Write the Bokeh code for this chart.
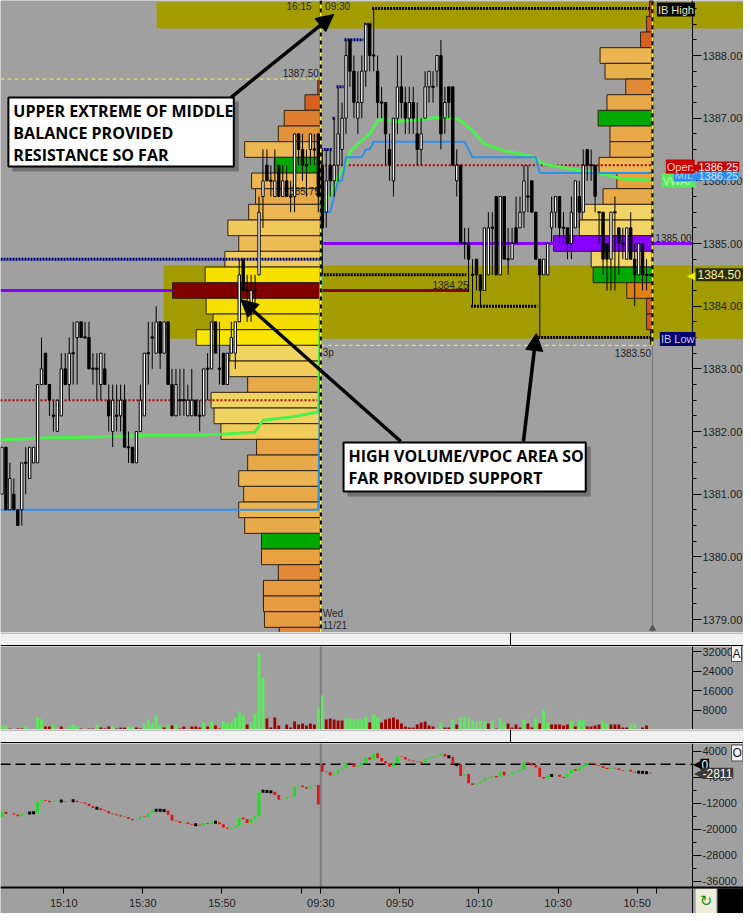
import math
from bokeh.plotting import figure
from bokeh.models import (FixedTicker, SingleIntervalTicker, NumeralTickFormatter, LinearAxis,
                          Label, Arrow, NormalHead, Range1d)
from bokeh.layouts import column
from bokeh.embed import file_html
from bokeh.resources import INLINE
from bokeh.core.properties import value

# ---------------------------------------------------------------- data
prev_session_start = "14:54"
cur_session_start = "09:30"
n_prev_bars = 81

bar_open = [
    1381.0, 1381.75, 1380.75, 1381.0, 1380.75, 1380.75, 1381.5, 1381.25, 1381.5, 1381.5,
    1382.75, 1383.25, 1382.75, 1382.25, 1382.0, 1382.25, 1383.0, 1382.75, 1383.25, 1383.5,
    1383.75, 1383.5, 1383.5, 1383.0, 1383.0, 1382.75, 1383.0, 1382.5, 1382.0, 1382.25,
    1382.25, 1382.5, 1381.75, 1381.75, 1381.5, 1382.0, 1382.25, 1383.25, 1383.5, 1383.25,
    1383.75, 1383.25, 1383.75, 1382.75, 1382.25, 1382.5, 1382.5, 1382.25, 1382.25, 1382.5,
    1382.25, 1382.25, 1383.0, 1383.0, 1383.75, 1383.0, 1383.25, 1382.75, 1383.25, 1383.25,
    1383.75, 1384.75, 1384.25, 1384.0, 1384.25, 1384.5, 1385.75, 1386.25, 1386.0, 1385.75,
    1386.25, 1385.75, 1386.0, 1385.75, 1385.75, 1386.75, 1386.5, 1386.25, 1386.5, 1386.5,
    1386.75,
    1386.25, 1385.5, 1386.25, 1386.0, 1386.25, 1386.5, 1387.0, 1388.25, 1387.75, 1387.0,
    1387.25, 1387.75, 1388.5, 1388.0, 1387.75, 1387.25, 1387.25, 1386.5, 1386.0, 1387.0,
    1387.5, 1387.25, 1387.0, 1387.25, 1386.75, 1386.5, 1387.0, 1387.5, 1387.5, 1387.75,
    1388.0, 1387.0, 1387.5, 1387.5, 1386.0, 1386.25, 1385.0, 1385.0, 1384.5, 1384.75,
    1384.5, 1384.25, 1384.5, 1385.25, 1385.75, 1384.5, 1385.75, 1384.75, 1384.75, 1385.25,
    1385.25, 1385.5, 1385.75, 1386.0, 1385.5, 1384.75, 1384.5, 1384.5, 1385.25, 1385.5,
    1385.75, 1385.25, 1385.25, 1385.0, 1385.25, 1385.75, 1385.5, 1386.5, 1386.25, 1386.25,
    1385.5, 1385.5, 1385.0, 1384.75, 1385.5, 1385.25, 1385.0, 1384.75, 1385.25, 1384.75,
    1384.5, 1385.0, 1384.5, 1384.5]
bar_high = [
    1381.75, 1381.75, 1381.5, 1381.25, 1380.75, 1381.5, 1381.75, 1381.75, 1381.75, 1382.75,
    1383.5, 1383.25, 1382.75, 1382.5, 1382.5, 1383.25, 1383.25, 1383.5, 1383.75, 1383.75,
    1383.75, 1383.75, 1383.75, 1383.25, 1383.25, 1383.25, 1383.25, 1382.75, 1382.75, 1382.75,
    1382.75, 1382.75, 1382.0, 1381.75, 1382.0, 1382.75, 1383.25, 1383.75, 1383.75, 1384.0,
    1383.75, 1383.75, 1383.75, 1383.0, 1383.0, 1383.0, 1383.0, 1382.75, 1383.0, 1382.5,
    1382.5, 1383.0, 1383.25, 1383.75, 1383.75, 1383.75, 1383.25, 1383.25, 1383.75, 1383.75,
    1384.75, 1384.75, 1384.5, 1384.5, 1384.5, 1385.75, 1386.5, 1386.5, 1386.25, 1386.5,
    1386.25, 1386.25, 1386.25, 1386.0, 1386.75, 1386.75, 1386.75, 1386.5, 1386.75, 1386.75,
    1386.75,
    1386.5, 1386.5, 1386.5, 1387.0, 1387.5, 1387.25, 1388.25, 1388.25, 1388.0, 1387.75,
    1388.0, 1388.5, 1388.5, 1388.75, 1388.0, 1387.5, 1387.25, 1386.75, 1387.0, 1388.0,
    1388.0, 1387.5, 1387.5, 1387.5, 1387.25, 1387.0, 1387.75, 1387.75, 1387.75, 1388.0,
    1388.25, 1387.5, 1387.5, 1387.5, 1386.5, 1386.25, 1385.25, 1385.25, 1384.75, 1384.75,
    1384.5, 1385.25, 1385.5, 1385.5, 1385.75, 1385.75, 1385.75, 1385.25, 1385.25, 1385.75,
    1385.75, 1386.25, 1386.25, 1386.0, 1385.5, 1384.75, 1384.75, 1385.0, 1385.75, 1385.75,
    1385.75, 1385.5, 1385.25, 1385.75, 1386.0, 1386.0, 1386.5, 1386.5, 1386.5, 1386.25,
    1385.5, 1385.5, 1385.0, 1385.5, 1385.75, 1385.25, 1385.25, 1385.25, 1385.5, 1385.0,
    1385.0, 1385.0, 1384.75, 1384.5]
bar_low = [
    1381.0, 1380.75, 1380.75, 1380.75, 1380.5, 1380.5, 1381.0, 1381.25, 1381.5, 1381.5,
    1382.75, 1382.75, 1382.25, 1382.0, 1382.0, 1382.25, 1382.75, 1382.5, 1382.75, 1382.75,
    1383.5, 1383.5, 1383.0, 1382.75, 1382.5, 1382.5, 1382.75, 1382.0, 1381.75, 1382.0,
    1382.0, 1381.75, 1381.5, 1381.5, 1381.5, 1382.0, 1382.25, 1382.75, 1383.0, 1383.25,
    1383.0, 1383.25, 1382.75, 1382.25, 1382.25, 1382.25, 1382.25, 1382.25, 1382.25, 1382.25,
    1382.0, 1382.25, 1382.5, 1383.0, 1383.25, 1382.75, 1382.75, 1382.75, 1383.25, 1383.0,
    1383.75, 1384.25, 1383.75, 1383.75, 1384.0, 1384.5, 1385.25, 1386.0, 1385.75, 1385.75,
    1385.75, 1385.75, 1385.75, 1385.5, 1385.5, 1386.25, 1386.0, 1385.75, 1386.25, 1386.25,
    1385.5,
    1384.5, 1385.25, 1385.75, 1385.75, 1386.0, 1386.25, 1386.75, 1387.5, 1387.0, 1386.75,
    1387.0, 1387.5, 1387.75, 1387.75, 1387.0, 1387.0, 1386.25, 1386.0, 1385.75, 1386.75,
    1387.0, 1386.75, 1386.75, 1386.75, 1386.25, 1386.25, 1387.0, 1387.25, 1387.25, 1387.5,
    1386.5, 1386.75, 1387.0, 1386.25, 1385.75, 1385.0, 1384.75, 1384.25, 1384.0, 1384.25,
    1384.0, 1384.25, 1384.5, 1384.5, 1384.5, 1384.5, 1384.75, 1384.5, 1384.75, 1385.0,
    1385.25, 1385.25, 1385.5, 1385.5, 1384.75, 1383.5, 1384.5, 1384.5, 1385.0, 1385.25,
    1385.0, 1385.0, 1384.75, 1384.75, 1385.25, 1385.25, 1385.5, 1386.0, 1386.0, 1385.5,
    1385.0, 1384.5, 1384.25, 1384.25, 1384.25, 1384.5, 1384.75, 1384.75, 1384.75, 1384.0,
    1384.5, 1384.25, 1384.25, 1384.5]
bar_close = [
    1381.75, 1380.75, 1381.25, 1380.75, 1380.5, 1381.5, 1381.5, 1381.75, 1381.75, 1382.75,
    1383.0, 1382.75, 1382.5, 1382.25, 1382.5, 1383.0, 1382.75, 1383.25, 1383.25, 1383.75,
    1383.5, 1383.5, 1383.0, 1383.0, 1383.0, 1383.25, 1382.75, 1382.25, 1382.5, 1382.25,
    1382.5, 1381.75, 1381.75, 1381.5, 1382.0, 1382.5, 1383.25, 1383.25, 1383.5, 1383.75,
    1383.25, 1383.75, 1382.75, 1382.25, 1382.75, 1382.5, 1382.5, 1382.5, 1382.5, 1382.25,
    1382.25, 1383.0, 1383.0, 1383.75, 1383.25, 1383.0, 1382.75, 1383.25, 1383.5, 1383.75,
    1384.5, 1384.25, 1384.25, 1384.25, 1384.25, 1385.5, 1386.0, 1386.0, 1386.0, 1386.0,
    1385.75, 1386.0, 1385.75, 1385.75, 1386.75, 1386.5, 1386.25, 1386.25, 1386.75, 1386.5,
    1385.75,
    1385.25, 1386.0, 1386.0, 1386.25, 1386.75, 1387.0, 1388.0, 1387.75, 1387.25, 1387.25,
    1387.75, 1388.5, 1388.0, 1388.0, 1387.25, 1387.25, 1386.75, 1386.25, 1387.0, 1387.5,
    1387.25, 1387.0, 1387.25, 1387.0, 1386.5, 1386.75, 1387.5, 1387.75, 1387.5, 1388.0,
    1386.75, 1387.25, 1387.25, 1386.25, 1386.25, 1385.0, 1385.0, 1384.75, 1384.5, 1384.5,
    1384.25, 1385.25, 1385.25, 1385.25, 1384.5, 1385.75, 1384.75, 1384.75, 1385.0, 1385.0,
    1385.5, 1386.0, 1385.75, 1385.5, 1384.75, 1384.5, 1384.75, 1385.0, 1385.5, 1385.75,
    1385.25, 1385.25, 1385.0, 1385.5, 1386.0, 1385.5, 1386.25, 1386.25, 1386.25, 1385.75,
    1385.5, 1384.75, 1384.75, 1385.5, 1385.5, 1385.0, 1385.0, 1385.25, 1384.75, 1384.5,
    1385.0, 1384.5, 1384.5, 1384.5]

bar_volume = [
    1650, 1650, 400, 0, 400, 400, 1240, 0, 0, 4950,
    4260, 1240, 1240, 2060, 0, 1240, 0, 1240, 2060, 1240,
    400, 0, 400, 400, 2060, 825, 400, 1240, 1650, 400,
    825, 825, 1240, 1240, 825, 400, 2475, 4125, 2890, 5775,
    2060, 825, 2060, 1650, 2060, 400, 1240, 0, 1240, 1240,
    825, 2890, 1240, 3300, 1650, 400, 3300, 2475, 2890, 4950,
    7425, 5775, 2060, 2890, 6600, 31350, 21450, 4540, 825, 4950,
    1650, 0, 2060, 825, 3300, 2060, 2475, 1650, 2475, 2060,
    8660, 14025, 4125, 4540, 4125, 3710, 3710, 4950, 4540, 4125,
    4125, 4125, 5360, 2890, 6190, 4950, 2890, 4125, 4540, 4950,
    4125, 2475, 1240, 825, 825, 2060, 2890, 3300, 1650, 1240,
    0, 2890, 825, 825, 4125, 2060, 4950, 5360, 4950, 3710,
    3300, 3710, 3710, 2475, 3710, 400, 4540, 2890, 2475, 825,
    2060, 825, 4125, 2475, 825, 4540, 2475, 7840, 2890, 2060,
    2060, 2060, 1650, 2060, 3710, 1240, 3710, 4125, 1240, 1240,
    1650, 2060, 3710, 2475, 2060, 2060, 2060, 825, 825, 2060,
    2475, 0, 825, 1650, 0]
bar_volume_up = [
    1, 1, 0, 0, 0, 0, 1, 0, 0, 1,
    1, 0, 0, 1, 0, 0, 0, 1, 1, 1,
    0, 0, 0, 0, 1, 0, 0, 0, 1, 0,
    0, 0, 1, 1, 0, 0, 1, 1, 1, 1,
    1, 0, 1, 0, 1, 0, 0, 0, 0, 0,
    0, 1, 0, 1, 0, 0, 1, 1, 1, 1,
    1, 1, 0, 1, 1, 1, 1, 0, 0, 0,
    0, 0, 0, 0, 0, 0, 0, 0, 0, 0,
    1, 1, 0, 0, 0, 0, 0, 1, 1, 1,
    1, 1, 1, 0, 1, 1, 0, 0, 0, 0,
    0, 0, 0, 0, 0, 0, 0, 0, 0, 0,
    0, 1, 0, 0, 1, 0, 1, 1, 1, 1,
    1, 1, 1, 0, 1, 0, 1, 1, 0, 0,
    0, 0, 1, 0, 0, 1, 0, 1, 1, 0,
    0, 0, 0, 0, 1, 0, 1, 1, 0, 0,
    0, 0, 1, 1, 0, 0, 0, 0, 0, 1,
    1, 0, 0, 0, 0]

delta_session_open = [-16280, 0]
delta_close = [
    -14630, -15310, -15110, -15500, -15990, -15210, -15020, -15020, -14920, -11510,
    -11030, -11220, -11710, -11420, -11220, -11320, -11510, -11320, -11220, -11610,
    -11810, -12200, -12880, -13460, -13560, -14140, -14430, -15210, -15410, -15700,
    -16090, -16280, -16770, -17260, -16960, -16090, -16280, -15110, -14140, -14140,
    -14140, -14240, -15600, -17350, -17550, -18130, -17940, -18420, -18620, -18620,
    -18910, -18130, -18330, -17840, -17840, -18520, -19490, -19880, -19590, -19110,
    -16380, -16960, -18130, -16870, -15990, -8400, -8300, -8400, -8500, -9470,
    -10930, -10730, -10150, -9960, -6940, -6550, -7040, -7520, -6750, -6360,
    -12390,
    -2280, -2450, -3450, -2950, -1690, -1280, 470, 260, -820, -320,
    470, 2100, 1430, 3390, 1930, 930, 260, -700, 470, 2390,
    2220, 1430, 1140, 930, 760, 470, 1640, 1930, 2390, 2600,
    3180, 2390, 2310, -30, -120, -3620, -2950, -5870, -6370, -5870,
    -5200, -4410, -4200, -3620, -4030, -2280, -3450, -3240, -2450, -2280,
    -1780, 640, 180, -320, -990, -3910, -4410, -3450, -3450, -3240,
    -3910, -4200, -2950, -1490, -1990, -990, -320, 470, 180, -320,
    -530, -1110, -1490, -1110, -1280, -1780, -1990, -1690, -2280, -2570,
    -2450, -2500, -2600, -2811]

prev_profile_price = [1387.50, 1387.25, 1387.00, 1386.75, 1386.50, 1386.25, 1386.00, 1385.75,
                      1385.50, 1385.25, 1385.00, 1384.75, 1384.50, 1384.25, 1384.00, 1383.75,
                      1383.50, 1383.25, 1383.00, 1382.75, 1382.50, 1382.25, 1382.00, 1381.75,
                      1381.50, 1381.25, 1381.00, 1380.75, 1380.50, 1380.25, 1380.00, 1379.75,
                      1379.50, 1379.25, 1379.00, 1378.75]
prev_profile_vol = [150, 800, 1850, 2150, 3850, 2350, 3500, 3300, 3650, 4700, 4150, 4850, 5850,
                    7500, 5800, 5450, 6300, 4600, 4650, 3700, 5550, 5400, 5050, 3250, 3700, 4150,
                    3900, 4150, 3850, 3000, 3000, 2150, 2900, 2900, 2850, 2100]
cur_profile_price = [1388.75, 1388.50, 1388.25, 1388.00, 1387.75, 1387.50, 1387.25, 1387.00,
                     1386.75, 1386.50, 1386.25, 1386.00, 1385.75, 1385.50, 1385.25, 1385.00,
                     1384.75, 1384.50, 1384.25, 1384.00, 1383.75, 1383.50]
cur_profile_vol = [150, 300, 600, 2650, 2400, 1350, 2300, 2750, 2150, 2150, 2700, 1800, 2500,
                   3550, 3700, 5000, 3100, 3000, 1300, 300, 300, 100]

vwap_bar = [0, 12, 21, 37, 50, 56, 64, 66, 73, 80, 81, 82, 84, 85, 87, 88, 90, 93, 95, 97,
            99, 102, 105, 110, 113, 115, 116, 119, 122, 127, 134, 137, 144, 152, 157, 164]
vwap_price = [1381.87, 1381.90, 1381.91, 1381.94, 1381.94, 1381.96, 1381.99, 1382.18, 1382.23,
              1382.31, 1385.47, 1385.69, 1385.90, 1386.06, 1386.27, 1386.46, 1386.59, 1386.75,
              1386.96, 1386.99, 1386.94, 1386.96, 1386.97, 1387.01, 1387.01, 1386.99, 1386.96,
              1386.80, 1386.59, 1386.48, 1386.39, 1386.27, 1386.19, 1386.11, 1386.03, 1386.01]

prev_open_level = 1382.50
prior_ref_level = 1384.75
prev_mid_level = 1380.75

zone_start_bar = [39.1, 40.9]
zone_low = [1388.43, 1383.48]
zone_high = [1388.85, 1384.65]

time_tick_labels = ["15:10", "15:30", "15:50", "16:10", "09:30", "09:50", "10:10", "10:30",
                    "10:50", "10:55"]
time_tick_hidden = ["16:10", "10:55"]

callout_1 = ["UPPER EXTREME OF MIDDLE", "BALANCE PROVIDED", "RESISTANCE SO FAR"]
callout_2 = ["HIGH VOLUME/VPOC AREA SO", "FAR PROVIDED SUPPORT"]

# ---------------------------------------------------------------- styles
BG = "#a1a0a1"
OLIVE = "#a29c00"
FONT = "Liberation Sans"
prev_profile_colors = ["#c8461a", "#d65f22", "#df7e30", "#e29238", "#ecb652", "#00a800",
                       "#ecb652", "#e8aa48", "#ecb652", "#f0c85a", "#ecbc52", "#f0cc5a",
                       "#f7e000", "#800000", "#f7e000", "#f5dc00", "#f7e400", "#f0d462",
                       "#f0cc5a", "#e8aa48", "#f0d462", "#f0d462", "#f0cc5a", "#e8a444",
                       "#e8aa48", "#ecb450", "#e8aa48", "#ecb450", "#e8aa48", "#00a800",
                       "#e8a040", "#e08838", "#e89c42", "#e89c42", "#e89c42", "#e08838"]
cur_profile_colors = ["#c8461a", "#d4561e", "#d65f22", "#ecb652", "#e8b04a", "#e08a38",
                      "#e8aa48", "#00a800", "#e8aa48", "#e8aa48", "#ecb652", "#e8a040",
                      "#e8aa48", "#f2d466", "#f2d466", "#8800ff", "#f2d466", "#00a800",
                      "#e08010", "#d4561e", "#d4561e", "#c8461a"]
UNITS_PER_CONTRACT = 1.0 / 200.0

W = 743
FRAME_W = 692          # data area left of the price axis
PRICE_H = 632
VOL_H = 83
STRIP_H = 14
D_H = 144
XAX_H = 26

N = len(bar_close)
idx = list(range(N))
X0 = -0.375
SCALE = 175.0 / FRAME_W                  # bar units per pixel
XA = X0 + FRAME_W * SCALE                # axis line position
XE = X0 + W * SCALE                      # right edge of canvas
PREV_R = n_prev_bars - 0.375
CUR_R = (N - 1) + 0.5
PY0, PY1 = 1378.793, 1388.878
VOL_TOP = 34200.0
D_TOP, D_BOT = 6394.0, -37985.0
D_PER_PX = (D_TOP - D_BOT) / D_H
D_BOT2 = D_BOT - XAX_H * D_PER_PX


def fx(px):
    my = px * FRAME_W / 700.0 if px <= 700 else FRAME_W + (px - 700)
    return X0 + my * SCALE


def fy(py):
    return 1388.0 - (py - 55.0) / 62.67


def vy(py):
    return VOL_TOP * (1 - (py - 646.0) / VOL_H)


def dy(py):
    my = (py - 743.0) * D_H / 152.0 if py <= 895 else D_H + (py - 895.0)
    return D_TOP - my * D_PER_PX


def right_axis(fig, ticker, formatter, size="11px"):
    ax = LinearAxis(ticker=ticker, formatter=formatter, fixed_location=XA)
    ax.axis_line_color = "black"
    ax.axis_line_width = 1
    ax.major_tick_line_color = "black"
    ax.minor_tick_line_color = "black"
    ax.major_tick_in = 0
    ax.major_tick_out = 9
    ax.minor_tick_in = 0
    ax.minor_tick_out = 4
    ax.major_label_standoff = 1
    ax.major_label_text_font = FONT
    ax.major_label_text_font_size = size
    ax.major_label_text_color = "#1e1e1e"
    fig.add_layout(ax, "right")
    return ax


def base_fig(height, y_range):
    f = figure(width=W, height=height, x_range=shared_x, y_range=y_range,
               output_backend="svg", toolbar_location=None, x_axis_location=None,
               y_axis_location=None, background_fill_color=BG, border_fill_color=BG,
               outline_line_color=None, min_border=0)
    f.grid.visible = False
    return f


def tag(fig, x, y, text, bg, fg, size="11px", align="left", pad=1, border=None):
    lab = Label(x=x, y=y, text=text, text_font=FONT, text_font_size=size, text_color=fg,
                text_align=align, text_baseline="middle", background_fill_color=bg,
                padding=pad)
    if border:
        lab.border_line_color = border
    fig.add_layout(lab)


def runs(vals, start):
    segs, s = [], 0
    for k in range(1, len(vals) + 1):
        if k == len(vals) or vals[k] != vals[s]:
            segs.append((start + s, start + k - 1, vals[s]))
            s = k
    return segs


shared_x = Range1d(X0, XE)

# ---------------------------------------------------------------- price panel
p = base_fig(PRICE_H, Range1d(PY0, PY1))
right_axis(p, SingleIntervalTicker(interval=1, num_minor_ticks=4),
           NumeralTickFormatter(format="0.00"))

# zones
p.quad(left=zone_start_bar, right=[XE + 5] * len(zone_low), bottom=zone_low, top=zone_high,
       fill_color=OLIVE, line_color=None)

# volume profiles
p.quad(left=[PREV_R - v * UNITS_PER_CONTRACT for v in prev_profile_vol], right=PREV_R,
       bottom=[q - 0.125 for q in prev_profile_price], top=[q + 0.125 for q in prev_profile_price],
       fill_color=prev_profile_colors, line_color="#2e2210", line_width=1)
p.quad(left=[CUR_R - v * UNITS_PER_CONTRACT for v in cur_profile_vol], right=CUR_R,
       bottom=[q - 0.125 for q in cur_profile_price], top=[q + 0.125 for q in cur_profile_price],
       fill_color=cur_profile_colors, line_color="#2e2210", line_width=1)

prev_k = prev_profile_vol.index(max(prev_profile_vol))
prev_vpoc = prev_profile_price[prev_k]
cur_vpoc = cur_profile_price[cur_profile_vol.index(max(cur_profile_vol))]

cur_idx = list(range(n_prev_bars, N))
run_hi, run_lo = [], []
mh, ml = -1e9, 1e9
for i in cur_idx:
    mh = max(mh, bar_high[i])
    ml = min(ml, bar_low[i])
    run_hi.append(mh)
    run_lo.append(ml)
touch = next(i for i in cur_idx if bar_low[i] <= prev_vpoc <= bar_high[i])
cur_open = bar_open[n_prev_bars]

# level lines
p.line([X0, PREV_R], [max(prev_profile_price) + 0.125] * 2, line_color="#f4f060",
       line_width=1, line_dash="4 3")
p.line([PREV_R, CUR_R], [ml - 0.125] * 2, line_color="#f4f060", line_width=1, line_dash="4 3")
p.line([X0, PREV_R], [prior_ref_level] * 2, line_color="#00007a", line_width=3, line_dash="2 1")
p.line([X0, PREV_R], [prev_open_level] * 2, line_color="#b00000", line_width=2, line_dash="2 2")
p.line([PREV_R, CUR_R], [cur_open] * 2, line_color="#b00000", line_width=2, line_dash="2 2")
p.line([X0, PREV_R - prev_profile_vol[prev_k] * UNITS_PER_CONTRACT], [prev_vpoc] * 2,
       line_color="#8800ff", line_width=3)
p.line([PREV_R, touch], [prev_vpoc] * 2, line_color="#880000", line_width=3)
p.line([PREV_R, XA], [cur_vpoc] * 2, line_color="#8800ff", line_width=3)

hi_segs = runs(run_hi, n_prev_bars)
for k, (a, b, v) in enumerate(hi_segs):
    last = k == len(hi_segs) - 1
    p.line([a - 0.4, CUR_R if last else b + 0.4], [v, v],
           line_color="black" if v >= mh - 0.25 else "#000080", line_width=3, line_dash="2 1")
lo_segs = runs(run_lo, n_prev_bars)
for k, (a, b, v) in enumerate(lo_segs):
    last = k == len(lo_segs) - 1
    p.line([a - 0.4, CUR_R if last else b + 0.4], [v, v], line_color="black",
           line_width=3, line_dash="2 1")

# VWAP and range midpoint
p.line(vwap_bar, vwap_price, line_color="#4cf04c", line_width=3)
mids = [(h + l) / 2 for h, l in zip(run_hi, run_lo)]
p.line([X0, n_prev_bars - 1] + cur_idx, [prev_mid_level] * 2 + mids,
       line_color="#2f8fea", line_width=2)

# vertical session lines
p.segment(x0=[PREV_R], y0=[PY0], x1=[PREV_R], y1=[PY1], line_color="black", line_width=2)
p.segment(x0=[PREV_R], y0=[PY0], x1=[PREV_R], y1=[PY1], line_color="#f8f040", line_width=2,
          line_dash="4 4")
p.segment(x0=[CUR_R], y0=[ml - 0.125], x1=[CUR_R], y1=[PY1], line_color="black", line_width=2)
p.segment(x0=[CUR_R], y0=[ml - 0.125], x1=[CUR_R], y1=[PY1], line_color="#f8f040",
          line_width=2, line_dash="4 4")
p.segment(x0=[CUR_R], y0=[PY0], x1=[CUR_R], y1=[ml - 0.125], line_color="#7a7a7a", line_width=1)
p.scatter([CUR_R], [fy(628)], marker="triangle", size=6, color="#555555")

# small texts
tf = value(FONT)
p.text(x=[fx(322), fx(323), touch, fx(699), fx(658)],
       y=[fy(72), fy(190), fy(284), fy(237), fy(352)],
       text=[f"{max(prev_profile_price):.2f}", f"{bar_close[n_prev_bars - 1]:.2f}",
             f"{prev_vpoc:.2f}", f"{cur_vpoc:.2f}", f"{ml:.2f}"],
       text_font=tf, text_font_size="10px", text_color="#1e1e1e", text_align="right",
       text_baseline="middle")
p.text(x=[fx(326), fx(326), fx(326)], y=[fy(352), fy(613), fy(625)],
       text=["3p", "Wed", "11/21"], text_font=tf, text_font_size="10px",
       text_color="#262626", text_align="left", text_baseline="middle")
p.text(x=[fx(302), fx(341)], y=[fy(6), fy(6)], text=["16:15", cur_session_start],
       text_font=tf, text_font_size="10px", text_color="#262626", text_align="center",
       text_baseline="middle")

# candles
up = [i for i in idx if bar_close[i] > bar_open[i]]
dn = [i for i in idx if bar_close[i] < bar_open[i]]
dj = [i for i in idx if bar_close[i] == bar_open[i]]
p.segment(x0=idx, y0=bar_low, x1=idx, y1=bar_high, line_color="black", line_width=1)
p.vbar(x=up, width=0.6, bottom=[bar_open[i] for i in up], top=[bar_close[i] for i in up],
       fill_color="white", line_color="black", line_width=1)
p.vbar(x=dn, width=0.6, bottom=[bar_close[i] for i in dn], top=[bar_open[i] for i in dn],
       fill_color="black", line_color="black", line_width=1)
p.rect(x=dj, y=[bar_close[i] for i in dj], width=0.85, height=2, height_units="screen",
       fill_color="black", line_color=None)

# callouts
for (l, r, t, b) in [(8, 236, 97, 166), (347, 592, 442, 491)]:
    p.quad(left=[fx(l + 4)], right=[fx(r + 5)], top=[fy(t + 4)], bottom=[fy(b + 5)],
           fill_color="#6a6a6a", fill_alpha=0.85, line_color=None)
    p.quad(left=[fx(l)], right=[fx(r)], top=[fy(t)], bottom=[fy(b)], fill_color="white",
           line_color="black", line_width=2)
p.text(x=[fx(13)] * 3, y=[fy(110), fy(132), fy(154)], text=callout_1,
       text_font=value("Open Sans"), text_font_style="bold", text_font_size="16px",
       text_color="black", text_baseline="middle")
p.text(x=[fx(352)] * 2, y=[fy(455), fy(477)], text=callout_2,
       text_font=value("Open Sans"), text_font_style="bold", text_font_size="16px",
       text_color="black", text_baseline="middle")
for (xs, ys, xe, ye) in [(233, 97, 337, 14), (405, 441, 243, 299), (529, 441, 542, 333)]:
    p.add_layout(Arrow(end=NormalHead(size=17, fill_color="black", line_color="black"),
                       x_start=fx(xs), y_start=fy(ys), x_end=fx(xe), y_end=fy(ye),
                       line_color="black", line_width=3.5))

# right-side tags
tag(p, fx(664), fy(9), "IB High", "black", "#e8e8c0")
tag(p, fx(667), fy(338.5), "IB Low", "#00006e", "#d0d0e0")
tag(p, fx(669), fy(180), "VWAP", "#5ce85c", "#b4ffb4")
tag(p, fx(681), fy(174), "MID", "#2e8ff0", "#9fd0ff")
tag(p, fx(673), fy(166), "Open", "#cc0000", "#ffd0d0")
mid_label = math.ceil(mids[-1] * 4) / 4
tag(p, fx(697), fy(175), "\u25c0", None, "#2e8ff0", size="12px", pad=0)
tag(p, fx(705), fy(175), f"{mid_label:.2f}", "#2e8ff0", "#cfe8ff", pad=1)
tag(p, fx(697), fy(166), "\u25c0", None, "#cc0000", size="12px", pad=0)
tag(p, fx(705), fy(166), f"{cur_open:.2f}", "#cc0000", "white", pad=1)
tag(p, fx(694), bar_close[-1], "\u25c0", None, "#f0f000", size="14px", pad=0)
tag(p, fx(703), bar_close[-1], f"{bar_close[-1]:.2f}", "#2c2c0c", "#f4f49c", size="12px", pad=2)


# ---------------------------------------------------------------- strips
def strip():
    s = figure(width=W, height=STRIP_H, x_range=Range1d(0, W), y_range=Range1d(0, STRIP_H),
               output_backend="svg", toolbar_location=None, x_axis_location=None,
               y_axis_location=None, min_border=0, background_fill_color="#f0f0f0",
               border_fill_color="#f0f0f0", outline_line_color=None)
    s.grid.visible = False
    s.segment(x0=[0], y0=[0.8], x1=[W], y1=[0.8], line_color="black", line_width=1.6)
    s.segment(x0=[0], y0=[13.5], x1=[W], y1=[13.5], line_color="#8a8a8a", line_width=1)
    s.segment(x0=[510], y0=[0], x1=[510], y1=[STRIP_H], line_color="black", line_width=1)
    return s


# ---------------------------------------------------------------- volume panel
pv = base_fig(VOL_H, Range1d(0, VOL_TOP))
right_axis(pv, FixedTicker(ticks=[8000, 16000, 24000, 32000], minor_ticks=[]),
           NumeralTickFormatter(format="0"))
pv.segment(x0=[PREV_R], y0=[0], x1=[PREV_R], y1=[VOL_TOP], line_color="#7a7a7a", line_width=2)
pv.vbar(x=idx, width=0.72, bottom=0, top=bar_volume,
        fill_color=["#5bea5b" if u else "#a00000" for u in bar_volume_up], line_color=None)
tag(pv, fx(739), vy(653), "A", "#f2f2f2", "#202020", size="12px", pad=1, border="#505050")

# ---------------------------------------------------------------- delta panel
pd_ = base_fig(D_H + XAX_H, Range1d(D_BOT2, D_TOP))
right_axis(pd_, FixedTicker(ticks=[4000, -4000, -12000, -20000, -28000, -36000],
                            minor_ticks=[0, -8000, -16000, -24000, -32000]),
           NumeralTickFormatter(format="0"))

tick_pos, overrides = [], {}
h0, m0 = map(int, prev_session_start.split(":"))
h1, m1 = map(int, cur_session_start.split(":"))
for lab in time_tick_labels:
    hh, mm = map(int, lab.split(":"))
    if hh >= 12:
        g = (hh * 60 + mm) - (h0 * 60 + m0)
    else:
        g = n_prev_bars + (hh * 60 + mm) - (h1 * 60 + m1)
    pos = g - 0.375
    tick_pos.append(pos)
    overrides[pos] = "" if lab in time_tick_hidden else lab
xa = LinearAxis(ticker=FixedTicker(ticks=tick_pos, minor_ticks=[]), fixed_location=D_BOT)
xa.major_label_overrides = overrides
xa.axis_line_color = "black"
xa.axis_line_width = 2
xa.major_tick_line_color = "black"
xa.major_tick_in = 0
xa.major_tick_out = 6
xa.major_label_standoff = 3
xa.major_label_text_font = FONT
xa.major_label_text_font_size = "11px"
xa.major_label_text_color = "#1e1e1e"
pd_.add_layout(xa, "below")

d_open = []
for i in idx:
    if i == 0:
        d_open.append(delta_session_open[0])
    elif i == n_prev_bars:
        d_open.append(delta_session_open[1])
    else:
        d_open.append(delta_close[i - 1])
d_up = [i for i in idx if delta_close[i] - d_open[i] > 120]
d_dn = [i for i in idx if d_open[i] - delta_close[i] > 120]
d_fl = [i for i in idx if abs(delta_close[i] - d_open[i]) <= 120]
pd_.line([X0, XA], [0, 0], line_color="black", line_width=1.5, line_dash="10 5")
pd_.segment(x0=[PREV_R], y0=[D_BOT], x1=[PREV_R], y1=[D_TOP], line_color="#7a7a7a",
            line_width=2)
pd_.vbar(x=d_up, width=0.7, bottom=[d_open[i] for i in d_up],
         top=[delta_close[i] for i in d_up], fill_color="#1fe01f", line_color=None)
pd_.vbar(x=d_dn, width=0.7, bottom=[delta_close[i] for i in d_dn],
         top=[d_open[i] for i in d_dn], fill_color="#e01515", line_color=None)
pd_.rect(x=d_fl, y=[delta_close[i] for i in d_fl], width=0.75, height=3, height_units="screen",
         fill_color="black", line_color=None)

# bottom-right corner buttons
pd_.quad(left=[fx(703)], right=[fx(724)], top=[dy(896)], bottom=[D_BOT2],
         fill_color="#eeeedc", line_color="#b8b8a8", line_width=1)
pd_.quad(left=[fx(725)], right=[XE + 2], top=[dy(896)], bottom=[D_BOT2],
         fill_color="black", line_color=None)
pd_.text(x=[fx(713.5)], y=[dy(908)], text=["\u21bb"], text_font=value("DejaVu Sans"),
         text_font_size="15px", text_color="#1b8a1b", text_align="center",
         text_baseline="middle")

tag(pd_, fx(739), dy(753), "O", "#f2f2f2", "#202020", size="12px", pad=1, border="#505050")
tag(pd_, fx(700), 0, "\u25c0", None, "black", size="12px", pad=0)
tag(pd_, fx(708), 0, "0", "black", "white", size="12px", pad=1)
tag(pd_, fx(701), delta_close[-1], "\u25c0", None, "#3a3a3a", size="12px", pad=0)
tag(pd_, fx(709), delta_close[-1], f"{delta_close[-1]}", "#3a3a3a", "white", size="12px", pad=1)

layout = column(p, strip(), pv, strip(), pd_)
open("out.html", "w").write(file_html(layout, INLINE, "chart"))
